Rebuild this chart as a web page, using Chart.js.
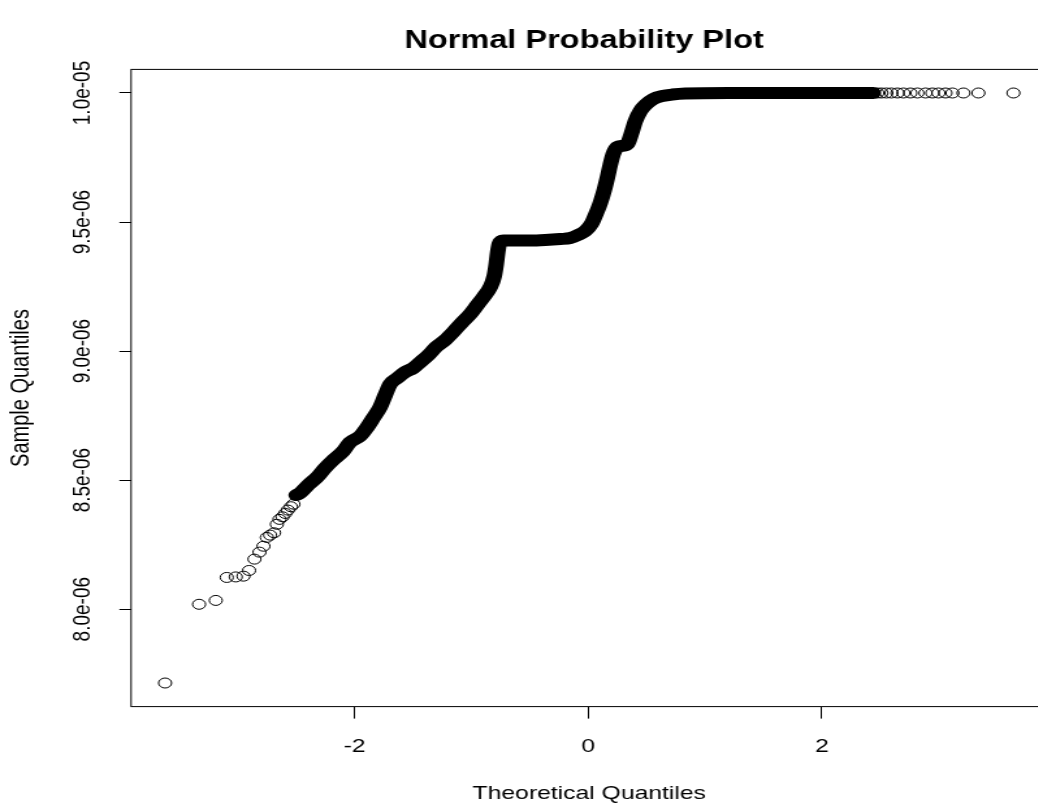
<!DOCTYPE html>
<html>
<head>
<meta charset="utf-8">
<script src="https://cdn.jsdelivr.net/npm/chart.js@4.4.1/dist/chart.umd.min.js"></script>
<style>
  html, body { margin: 0; padding: 0; background: #fff; }
  #wrap { width: 1038px; height: 807px; overflow: hidden; }
</style>
</head>
<body>
<div id="wrap"><canvas id="qq" width="812" height="807" style="width:1055.6px;height:807px"></canvas></div>
<script>
// sparse points in the tails (theoretical quantile, sample quantile)
const lowTailX = [-3.623, -3.332, -3.189, -3.095, -3.018, -2.952, -2.904, -2.858, -2.815, -2.781,
                  -2.752, -2.724, -2.690, -2.666, -2.644, -2.618, -2.595, -2.572, -2.546, -2.524];
const lowTailY = [7.714e-6, 8.019e-6, 8.034e-6, 8.123e-6, 8.125e-6, 8.128e-6, 8.150e-6, 8.194e-6, 8.221e-6, 8.244e-6,
                  8.278e-6, 8.287e-6, 8.296e-6, 8.329e-6, 8.348e-6, 8.358e-6, 8.371e-6, 8.384e-6, 8.397e-6, 8.407e-6];
const highTailX = [2.475, 2.510, 2.552, 2.595, 2.647, 2.698, 2.758, 2.818, 2.887, 2.946, 2.998, 3.058, 3.118, 3.212, 3.340, 3.640];
const highTailY = [1.0e-5, 1.0e-5, 1.0e-5, 1.0e-5, 1.0e-5, 1.0e-5, 1.0e-5, 1.0e-5, 1.0e-5, 1.0e-5, 1.0e-5, 1.0e-5, 1.0e-5, 1.0e-5, 1.0e-5, 1.0e-5];

// the dense middle part, where thousands of circles merge into one band
const bandX = [-2.501, -2.467, -2.398, -2.321, -2.253, -2.184, -2.099, -2.039, -1.953, -1.893,
               -1.842, -1.782, -1.739, -1.696, -1.636, -1.567, -1.499, -1.439, -1.370, -1.302,
               -1.225, -1.156, -1.079, -1.011, -0.951, -0.891, -0.839, -0.805, -0.788, -0.775,
               -0.762, -0.728, -0.625, -0.497, -0.368, -0.240, -0.154, -0.086, -0.026, 0.026,
               0.069, 0.103, 0.137, 0.163, 0.188, 0.214, 0.248, 0.291, 0.334, 0.368,
               0.403, 0.445, 0.497, 0.557, 0.634, 0.719, 0.831, 1.2, 1.8, 2.44];
const bandY = [8.442e-6, 8.450e-6, 8.481e-6, 8.512e-6, 8.547e-6, 8.578e-6, 8.612e-6, 8.647e-6, 8.671e-6, 8.705e-6,
               8.740e-6, 8.783e-6, 8.829e-6, 8.872e-6, 8.895e-6, 8.919e-6, 8.934e-6, 8.957e-6, 8.984e-6, 9.016e-6,
               9.043e-6, 9.074e-6, 9.112e-6, 9.143e-6, 9.178e-6, 9.213e-6, 9.248e-6, 9.291e-6, 9.337e-6, 9.384e-6,
               9.415e-6, 9.428e-6, 9.428e-6, 9.428e-6, 9.430e-6, 9.434e-6, 9.438e-6, 9.450e-6, 9.465e-6, 9.492e-6,
               9.535e-6, 9.574e-6, 9.624e-6, 9.671e-6, 9.721e-6, 9.764e-6, 9.791e-6, 9.795e-6, 9.802e-6, 9.841e-6,
               9.891e-6, 9.930e-6, 9.957e-6, 9.977e-6, 9.988e-6, 9.994e-6, 9.998e-6, 1.0e-5, 1.0e-5, 1.0e-5];

// axes
const xTicks = [-2, 0, 2];
const yTicks = [8.0e-6, 8.5e-6, 9.0e-6, 9.5e-6, 1.0e-5];
const yTickLabels = ['8.0e-06', '8.5e-06', '9.0e-06', '9.5e-06', '1.0e-05'];
const xRange = [-3.914, 3.931];
const yRange = [7.6226e-6, 1.00914e-5];
const mainTitle = 'Normal Probability Plot';

Chart.defaults.font.family = "'Liberation Sans', Arial, Helvetica, sans-serif";
Chart.defaults.color = '#000';

const toPoints = (xs, ys) => xs.map((x, i) => ({ x: x, y: ys[i] }));

// R style box around the plot region, title centred over it
const boxPlugin = {
    id: 'box',
    afterDraw(chart) {
        const a = chart.chartArea;
        const ctx = chart.ctx;
        ctx.save();
        ctx.strokeStyle = '#000';
        ctx.lineWidth = 1;
        ctx.strokeRect(a.left, a.top, a.right - a.left, a.bottom - a.top);
        ctx.fillStyle = '#000';
        ctx.font = "bold 25px 'Liberation Sans', Arial, Helvetica, sans-serif";
        ctx.textAlign = 'center';
        ctx.textBaseline = 'middle';
        ctx.fillText(mainTitle, (a.left + a.right) / 2 - 4, 41);
        ctx.restore();
    }
};

var ctx = document.getElementById('qq').getContext('2d');
var qqChart = new Chart(ctx, {
    type: 'scatter',
    data: {
        datasets: [
            {
                label: 'band',
                data: toPoints(bandX, bandY),
                showLine: true,
                borderColor: '#000',
                borderWidth: 12,
                borderCapStyle: 'round',
                borderJoinStyle: 'round',
                cubicInterpolationMode: 'monotone',
                pointRadius: 0
            },
            {
                label: 'tails',
                data: toPoints(lowTailX, lowTailY).concat(toPoints(highTailX, highTailY)),
                pointStyle: 'circle',
                pointRadius: 5,
                borderWidth: 1,
                borderColor: '#000',
                backgroundColor: 'rgba(0,0,0,0)'
            }
        ]
    },
    options: {
        responsive: false,
        animation: false,
        events: [],
        layout: { padding: { left: 0, right: 6.6, top: 69.4, bottom: 0 } },
        scales: {
            x: {
                type: 'linear',
                min: xRange[0],
                max: xRange[1],
                afterBuildTicks: s => { s.ticks = xTicks.map(v => ({ value: v })); },
                afterFit: s => { s.height = 100.4; },
                border: { display: false },
                grid: { drawOnChartArea: false, drawTicks: true, tickLength: 12, color: '#000', lineWidth: 1 },
                ticks: { font: { size: 19 }, padding: 17, maxRotation: 0, minRotation: 0 },
                title: {
                    display: true,
                    text: 'Theoretical Quantiles',
                    font: { size: 19 },
                    padding: { top: 0, bottom: 2 }
                }
            },
            y: {
                type: 'linear',
                min: yRange[0],
                max: yRange[1],
                afterBuildTicks: s => { s.ticks = yTicks.map(v => ({ value: v })); },
                afterFit: s => { s.width = 100.8; },
                border: { display: false },
                grid: { drawOnChartArea: false, drawTicks: true, tickLength: 9, color: '#000', lineWidth: 1 },
                ticks: {
                    font: { size: 19 },
                    minRotation: 90,
                    maxRotation: 90,
                    crossAlign: 'center',
                    padding: -4,
                    callback: (v, i) => yTickLabels[i]
                },
                title: {
                    display: true,
                    text: 'Sample Quantiles',
                    font: { size: 20 },
                    padding: { top: 4, bottom: 0 }
                }
            }
        },
        plugins: {
            legend: { display: false },
            tooltip: { enabled: false },
            title: { display: false }
        }
    },
    plugins: [boxPlugin]
});
</script>
</body>
</html>
